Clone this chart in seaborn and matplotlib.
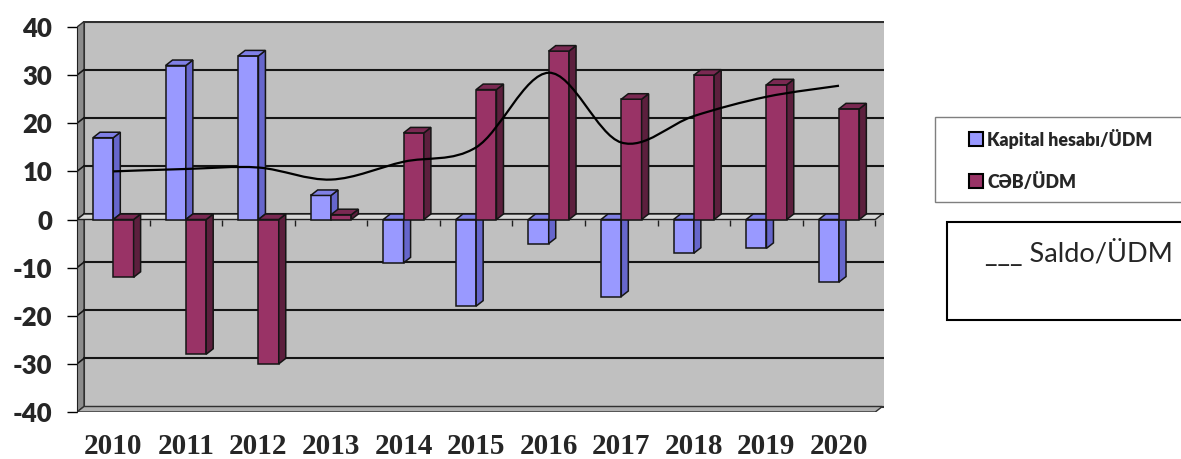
import numpy as np
import pandas as pd
import matplotlib
matplotlib.use("Agg")
import matplotlib.pyplot as plt
from matplotlib.patches import Polygon, Rectangle, PathPatch
from matplotlib.path import Path
import seaborn as sns

years = ["2010", "2011", "2012", "2013", "2014", "2015", "2016", "2017", "2018", "2019", "2020"]
kapital = [17, 32, 34, 5, -9, -18, -5, -16, -7, -6, -13]
ceb = [-12, -28, -30, 1, 18, 27, 35, 25, 30, 28, 23]
saldo = [10, 10.5, 10.8, 8.3, 12, 15, 30.5, 16, 21.5, 25.5, 27.8]
y_ticks = [-40, -30, -20, -10, 0, 10, 20, 30, 40]

series_names = ["Kapital hesabı/ÜDM", "CƏB/ÜDM"]
front_cols = ["#9999FF", "#993366"]
side_cols = ["#6666CC", "#5C1F3D"]
top_cols = ["#8080E6", "#7A2952"]

df = pd.DataFrame({
    "year": years * 2,
    "value": kapital + ceb,
    "series": [series_names[0]] * len(years) + [series_names[1]] * len(years),
})

sns.set_style("white")

fig = plt.figure(figsize=(11.81, 4.59), dpi=100)
ax = fig.add_axes([77 / 1181, 47 / 459, 807 / 1181, 391 / 459])

n = len(years)
dx, dy = 0.0966, 1.14
xmin, xmax = -0.5, 10.62
ymin, ymax = -40, 41.25

# walls
ax.add_patch(Rectangle((xmin + dx, ymin + dy), xmax - xmin, 80,
                       facecolor="#C0C0C0", edgecolor="#303030", lw=1.5, zorder=0.5))
ax.add_patch(Polygon([(xmin, ymin), (xmin, 40), (xmin + dx, 40 + dy), (xmin + dx, ymin + dy)],
                     closed=True, facecolor="#8C8C8C", edgecolor="#303030", lw=1, zorder=0.6))
ax.add_patch(Polygon([(xmin, ymin), (n - 0.5, ymin), (n - 0.5 + dx, ymin + dy), (xmin + dx, ymin + dy)],
                     closed=True, facecolor="#B0B0B0", edgecolor="#303030", lw=1, zorder=0.6))

# gridlines on back and side wall
for v in y_ticks[1:-1]:
    ax.plot([xmin + dx, xmax], [v + dy, v + dy], color="#151515", lw=1.5, zorder=0.8)
    ax.plot([xmin, xmin + dx], [v, v + dy], color="#151515", lw=1.2, zorder=0.8)

# floor at zero
ax.add_patch(Polygon([(xmin, 0), (n - 0.5, 0), (n - 0.5 + dx, dy), (xmin + dx, dy)],
                     closed=True, facecolor="#D8D8D8", edgecolor="#202020", lw=1, zorder=1))
ax.vlines(np.arange(n) + 0.5, -1.4, 0, color="#202020", lw=1, zorder=1)

sns.barplot(data=df, x="year", y="value", hue="series", hue_order=series_names,
            palette=front_cols, saturation=1, width=0.56, gap=0,
            edgecolor="#151515", linewidth=1.1, legend=False, ax=ax)

bars = [p for p in ax.patches if isinstance(p, Rectangle) and p.get_zorder() != 0.5
        and p.get_width() < 0.5]
for p in bars:
    fc = matplotlib.colors.to_hex(p.get_facecolor())
    k = 0 if fc.lower() == front_cols[0].lower() else 1
    z = 2 + k
    p.set_zorder(z)
    x0 = p.get_x()
    x1 = x0 + p.get_width()
    y0 = p.get_y()
    y1 = y0 + p.get_height()
    lo, hi = min(y0, y1), max(y0, y1)
    ax.add_patch(Polygon([(x1, lo), (x1 + dx, lo + dy), (x1 + dx, hi + dy), (x1, hi)], closed=True,
                         facecolor=side_cols[k], edgecolor="#151515", lw=1.1, zorder=z))
    ax.add_patch(Polygon([(x0, hi), (x0 + dx, hi + dy), (x1 + dx, hi + dy), (x1, hi)], closed=True,
                         facecolor=top_cols[k], edgecolor="#151515", lw=1.1, zorder=z))

# smoothed Saldo line (Catmull-Rom as cubic bezier)
pts = np.column_stack([np.arange(n), saldo])
verts = [tuple(pts[0])]
codes = [Path.MOVETO]
for i in range(n - 1):
    p0 = pts[max(i - 1, 0)]
    p1 = pts[i]
    p2 = pts[i + 1]
    p3 = pts[min(i + 2, n - 1)]
    c1 = p1 + (p2 - p0) / 6
    c2 = p2 - (p3 - p1) / 6
    verts += [tuple(c1), tuple(c2), tuple(p2)]
    codes += [Path.CURVE4] * 3
ax.add_patch(PathPatch(Path(verts, codes), facecolor="none", edgecolor="black", lw=1.6, zorder=5))

ax.set_xlim(xmin, xmax)
ax.set_ylim(ymin, ymax)
ax.set_yticks(y_ticks)
ax.set_yticklabels([str(v) for v in y_ticks], fontfamily="Lato", fontweight="heavy", fontsize=18.5)
ax.set_xticks(range(n))
ax.set_xticklabels(years, fontfamily="Liberation Serif", fontweight="bold", fontsize=21)
ax.tick_params(axis="y", length=7, width=1, color="black", direction="out", pad=11, left=True)
ax.tick_params(axis="x", length=0, pad=15)
ax.set_xlabel("")
ax.set_ylabel("")
ax.set_facecolor("white")
for s in ["top", "right", "bottom"]:
    ax.spines[s].set_visible(False)
ax.spines["left"].set_color("#202020")
ax.spines["left"].set_bounds(ymin, 40)
ax.grid(False)

# legend boxes
fig.patches.append(Rectangle((935 / 1181, 257 / 459), 260 / 1181, 85 / 459, transform=fig.transFigure,
                             facecolor="white", edgecolor="#7F7F7F", lw=1))
leg_y = [146, 188]
for k in range(2):
    fig.patches.append(Rectangle((969 / 1181, (459 - leg_y[k]) / 459), 14 / 1181, 14 / 459,
                                 transform=fig.transFigure, facecolor=front_cols[k],
                                 edgecolor="black", lw=1.5))
    fig.text(987 / 1181, (459 - leg_y[k]) / 459, series_names[k], fontfamily="Lato",
             fontweight="heavy", fontsize=12.8, va="baseline", ha="left")

fig.patches.append(Rectangle((947 / 1181, 139 / 459), 260 / 1181, 98 / 459, transform=fig.transFigure,
                             facecolor="white", edgecolor="black", lw=1.5))
fig.text(985 / 1181, (459 - 262) / 459, "___ Saldo/ÜDM", fontfamily="Lato", fontsize=19.5,
         va="baseline", ha="left")

fig.savefig("out.png", dpi=100)
